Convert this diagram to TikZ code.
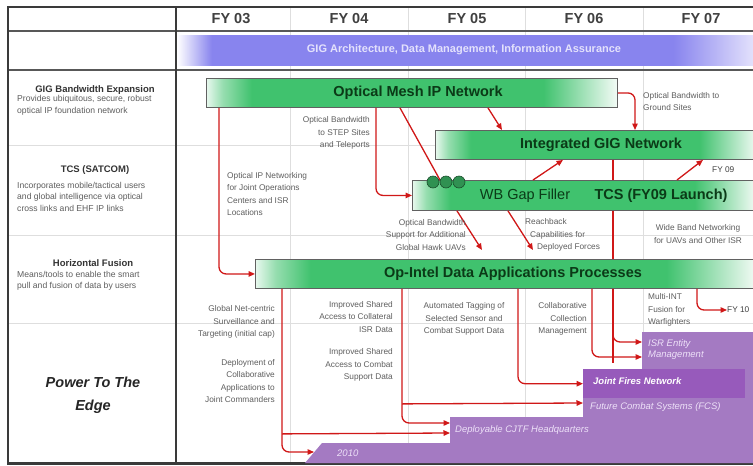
\documentclass[tikz,border=0pt]{standalone}
\usepackage{fontspec}
\setmainfont{Liberation Sans}
\usetikzlibrary{arrows.meta,calc}

\definecolor{gbar}{HTML}{40C26E}
\definecolor{gpale}{HTML}{E8F8EE}
\colorlet{gmid}{gbar!55!white}
\colorlet{gend}{gbar!6!white}
\definecolor{archc}{HTML}{8884EE}
\definecolor{archl}{HTML}{E4E2FC}
\definecolor{redc}{HTML}{D01818}
\definecolor{purp}{HTML}{A47AC2}
\definecolor{purpd}{HTML}{975ABB}
\definecolor{lav}{HTML}{EDE0F8}
\definecolor{gtxt}{HTML}{5E5E5E}
\definecolor{framec}{HTML}{3A3A3A}
\definecolor{gridc}{HTML}{DEDEDE}
\definecolor{bartext}{HTML}{0B3A17}

% visible part of a path shading is 25bp..75bp
\pgfdeclarehorizontalshading{greenbar}{100bp}{color(0bp)=(gpale); color(25bp)=(gpale); color(27bp)=(gmid); color(30.5bp)=(gbar); color(66bp)=(gbar); color(75bp)=(gend); color(100bp)=(gend)}
\pgfdeclarehorizontalshading{archbar}{100bp}{color(0bp)=(white); color(25bp)=(white); color(28bp)=(archc); color(68bp)=(archc); color(75bp)=(archl); color(100bp)=(archl)}

\begin{document}
\begin{tikzpicture}[x=1pt,y=-1pt,
  gridline/.style={draw=gridc,line width=0.6pt},
  frameline/.style={draw=framec},
  bar/.style={draw=framec!80,line width=0.9pt,shade,shading=greenbar,anchor=north west,inner sep=0pt},
  bartxt/.style={font=\fontsize{14.5}{16}\selectfont\bfseries,text=bartext,inner sep=0pt},
  pbox/.style={fill=purp,anchor=north west,inner sep=0pt},
  ptxt/.style={font=\fontsize{9.5}{11.5}\selectfont\itshape,text=lav,inner sep=0pt},
  redline/.style={draw=redc,line width=1.3pt},
  conn/.style={redline,rounded corners=7pt,-{Triangle[length=6.5pt,width=5.5pt]}},
  note/.style={font=\fontsize{8.3}{12.5}\selectfont,text=gtxt,inner sep=0pt},
  lhead/.style={font=\fontsize{9.5}{11}\selectfont\bfseries,text=black!80,inner sep=0pt},
  lbody/.style={font=\fontsize{8.6}{11.5}\selectfont,text=gtxt,inner sep=0pt,align=left,anchor=west},
  fytxt/.style={font=\fontsize{14.5}{16}\selectfont\bfseries,text=black!75,inner sep=0pt}]
\useasboundingbox (0,0) rectangle (753,466);
\fill[white] (0,0) rectangle (753,466);

% faint grid
\foreach \x in {290,408,525,643} \draw[gridline] (\x,8) -- (\x,462);
\foreach \y in {145,235,323} \draw[gridline] (9,\y) -- (753,\y);

% architecture bar
\node[shade,shading=archbar,anchor=north west,inner sep=0pt,minimum width=577pt,minimum height=30pt] (arch) at (177,35) {};
\node[font=\fontsize{11}{13}\selectfont\bfseries,text=archl,inner sep=0pt] (archt) at (464,50) {GIG Architecture, Data Management, Information Assurance};

% frame
\draw[frameline,line width=2.6pt] (7,7) -- (756,7);
\draw[frameline,line width=2.4pt,draw=framec!85] (7,31) -- (756,31);
\draw[frameline,line width=2.4pt,draw=framec!85] (7,70) -- (756,70);
\draw[frameline,line width=3pt] (7,463) -- (756,463);
\draw[frameline,line width=1.6pt] (8,7) -- (8,463);
\draw[frameline,line width=2pt] (176,7) -- (176,463);

% header
\node[fytxt] (fy03) at (231,18.5) {FY 03};
\node[fytxt] (fy04) at (349,18.5) {FY 04};
\node[fytxt] (fy05) at (467,18.5) {FY 05};
\node[fytxt] (fy06) at (584,18.5) {FY 06};
\node[fytxt] (fy07) at (701,18.5) {FY 07};

% left panel
\node[lhead] (h1) at (95,90) {GIG Bandwidth Expansion};
\node[lbody] (b1) at (17,105.5) {Provides ubiquitous, secure, robust\\optical IP foundation network};
\node[lhead] (h2) at (95,170) {TCS (SATCOM)};
\node[lbody] (b2) at (17,196.5) {Incorporates mobile/tactical users\\and global intelligence via optical\\cross links and EHF IP links};
\node[lhead] (h3) at (93,263) {Horizontal Fusion};
\node[lbody] (b3) at (17,281) {Means/tools to enable the smart\\pull and fusion of data by users};
\node[font=\fontsize{14.5}{23}\selectfont\bfseries\itshape,text=black!85,align=center,inner sep=0pt] (pte) at (93,395) {Power To The\\Edge};

% purple staircase
\node[pbox,minimum width=114pt,minimum height=131pt] (isr) at (642,332) {};
\node[pbox,minimum width=173pt,minimum height=94pt] (fcs) at (583,369) {};
\node[pbox,minimum width=306pt,minimum height=46pt] (dep) at (450,417) {};
\fill[purp] (305,463) -- (322,443) -- (756,443) -- (756,463) -- cycle;
\coordinate (y10) at (314,452);
\node[fill=purpd,anchor=north west,inner sep=0pt,minimum width=162pt,minimum height=29pt] (jfn) at (583,369) {};
\node[font=\fontsize{9.5}{11}\selectfont\bfseries\itshape,text=white,anchor=west,inner sep=0pt] (jfnt) at (593,381) {Joint Fires Network};
\node[ptxt,align=left,anchor=west] (isrt) at (648,349.5) {ISR Entity\\Management};
\node[ptxt,anchor=west] (fcst) at (590,407) {Future Combat Systems (FCS)};
\node[ptxt,anchor=west] (dept) at (455,430) {Deployable CJTF Headquarters};
\node[ptxt,anchor=west] (y10t) at (337,453) {2010};

% green bars
\node[bar,minimum width=411pt,minimum height=29pt] (om) at (206,78) {};
\node[bar,minimum width=322pt,minimum height=29pt] (gig) at (435,130) {};
\node[bar,minimum width=344pt,minimum height=30pt] (wb) at (412,180) {};
\node[bar,minimum width=501pt,minimum height=29pt] (opi) at (255,259) {};

\coordinate (c3end) at (482,250);
\coordinate (c7end) at (533,250);

% bar labels
\node[bartxt] (omt) at (418,92.5) {Optical Mesh IP Network};
\node[bartxt] (gigt) at (601,144.5) {Integrated GIG Network};
\node[bartxt] (opit) at (513,273.5) {Op-Intel Data Applications Processes};
\node[font=\fontsize{14.5}{16}\selectfont,text=bartext,inner sep=0pt] (wbt) at (525,195.5) {WB Gap Filler};
\node[bartxt] (tcst) at (661,195.5) {TCS (FY09 Launch)};

% connectors
\draw[conn] ($(om.south west)+(13,0)$) |- (opi.west);
\draw[conn] ($(om.south west)+(170,0)$) |- (wb.west);
\draw[conn] (om.east) -| ($(gig.north west)+(200,0)$);
\draw[conn] ($(om.south west)+(282,0)$) -- ($(gig.north west)+(67,0)$);
\draw[conn] ($(wb.north west)+(121,0)$) -- ($(gig.south west)+(128,0)$);
\draw[conn] ($(wb.north west)+(265,0)$) -- ($(gig.south west)+(268,0)$);
\draw[conn] ($(wb.south west)+(96,0)$) -- (c7end);
\draw[conn] ($(wb.south west)+(45,0)$) -- (c3end);
\draw[redline] ($(om.south west)+(194,0)$) -- ($(wb.north west)+(28,0)$);
\draw[redline] ($(gig.south west)+(178,0)$) -- ($(wb.north west)+(201,0)$);
\draw[redline] ($(wb.south west)+(201,0)$) -- ($(opi.north west)+(358,0)$);
\draw[redline] ($(opi.south west)+(358,0)$) -- ($(opi.south west)+(358,74)$);
\draw[conn] ($(opi.south west)+(358,0)$) |- ($(isr.north west)+(0,10)$);
\draw[conn] ($(opi.south west)+(337,0)$) |- ($(isr.north west)+(0,25)$);
\draw[conn] ($(opi.south west)+(263,0)$) |- (jfn.west);
\draw[conn] ($(opi.south west)+(147,0)$) |- ($(dep.north west)+(0,6)$);
\draw[conn,rounded corners=0pt] ($(opi.south west)+(147,115)$) -- ($(fcs.north west)+(0,34)$);
\draw[conn] ($(opi.south west)+(27,0)$) |- (y10);
\draw[conn,rounded corners=0pt] ($(opi.south west)+(27,145)$) -- ($(dep.north west)+(0,16)$);
\node[note,text=black!75,anchor=west] (fy10) at (727,310) {FY 10};
\draw[conn] ($(opi.south west)+(442,0)$) |- (fy10.west);
\node[note,text=black!75,anchor=west] (fy09) at (712,170) {FY 09};

% circles on WB bar
\foreach \i/\x in {1/433,2/446,3/459}
  \node[circle,fill=gbar!75!black,draw=gbar!40!black,line width=0.6pt,minimum size=12pt,inner sep=0pt] (dot\i) at (\x,182) {};

% annotations
\node[note,align=right,anchor=east] (a1) at (370,133) {Optical Bandwidth\\to STEP Sites\\and Teleports};
\node[note,align=left,anchor=west] (a2) at (227,194) {Optical IP Networking\\for Joint Operations\\Centers and ISR\\Locations};
\node[note,align=right,anchor=east] (a3) at (466,235) {Optical Bandwidth\\Support for Additional\\Global Hawk UAVs};
\node[note,align=left,anchor=west] (a4) at (525,235) {Reachback\\\hspace*{5pt}Capabilities for\\\hspace*{12pt}Deployed Forces};
\node[note,align=center] (a5) at (698,234) {Wide Band Networking\\for UAVs and Other ISR};
\node[note,align=left,anchor=west] (a7) at (643,101.5) {Optical Bandwidth to\\Ground Sites};
\node[note,align=right,anchor=east] (a8) at (275,322) {Global Net-centric\\Surveillance and\\Targeting (initial cap)};
\node[note,align=right,anchor=east] (a9) at (275,381) {Deployment of\\Collaborative\\Applications to\\Joint Commanders};
\node[note,align=right,anchor=east] (a10) at (393,317) {Improved Shared\\Access to Collateral\\ISR Data};
\node[note,align=right,anchor=east] (a11) at (393,365) {Improved Shared\\Access to Combat\\Support Data};
\node[note,align=center] (a12) at (464,319) {Automated Tagging of\\Selected Sensor and\\Combat Support Data};
\node[note,align=right,anchor=east] (a13) at (587,319) {Collaborative\\Collection\\Management};
\node[note,align=left,anchor=west] (a14) at (648,310) {Multi-INT\\Fusion for\\Warfighters};
\end{tikzpicture}
\end{document}
